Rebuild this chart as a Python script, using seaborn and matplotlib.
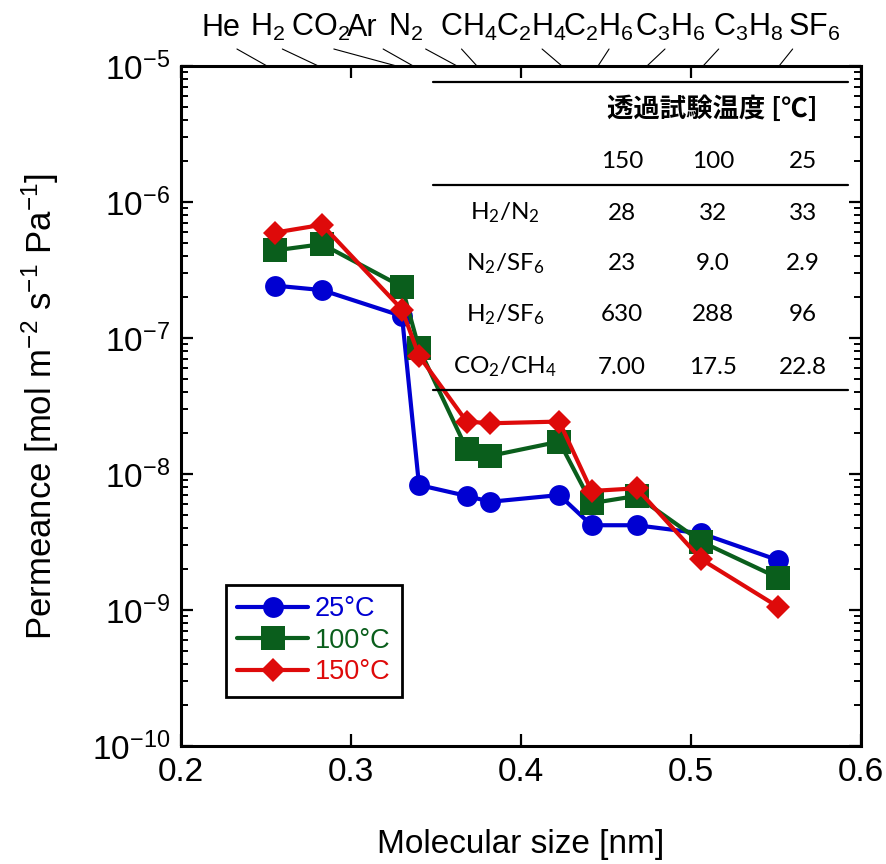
import numpy as np
import pandas as pd
import matplotlib
matplotlib.use("Agg")
import matplotlib.pyplot as plt
import seaborn as sns
from matplotlib.lines import Line2D
from matplotlib.transforms import blended_transform_factory

# ---- data -------------------------------------------------------------
gases = ["He", "H2", "CO2", "Ar", "N2", "CH4", "C2H4", "C2H6", "C3H6", "C3H8", "SF6"]
gas_labels = ["He", r"H$_\mathregular{2}$", r"CO$_\mathregular{2}$", "Ar", r"N$_\mathregular{2}$",
              r"CH$_\mathregular{4}$", r"C$_\mathregular{2}$H$_\mathregular{4}$",
              r"C$_\mathregular{2}$H$_\mathregular{6}$", r"C$_\mathregular{3}$H$_\mathregular{6}$",
              r"C$_\mathregular{3}$H$_\mathregular{8}$", r"SF$_\mathregular{6}$"]
size_nm = [0.255, 0.283, 0.330, 0.340, 0.368, 0.382, 0.4225, 0.4415, 0.468, 0.506, 0.551]

perm_25 = [2.43e-7, 2.25e-7, 1.45e-7, 8.3e-9, 6.9e-9, 6.25e-9, 7.0e-9, 4.2e-9, 4.2e-9, 3.66e-9, 2.33e-9]
perm_100 = [4.4e-7, 4.9e-7, 2.38e-7, 8.4e-8, 1.53e-8, 1.36e-8, 1.73e-8, 6.1e-9, 6.9e-9, 3.18e-9, 1.73e-9]
perm_150 = [5.95e-7, 6.8e-7, 1.62e-7, 7.4e-8, 2.43e-8, 2.36e-8, 2.43e-8, 7.5e-9, 7.85e-9, 2.36e-9, 1.06e-9]

series_labels = ["25°C", "100°C", "150°C"]

# selectivity table
table_title = "透過試験温度 [℃]"
table_temps = ["150", "100", "25"]
ratio_names = [r"H$_\mathregular{2}$/N$_\mathregular{2}$",
               r"N$_\mathregular{2}$/SF$_\mathregular{6}$",
               r"H$_\mathregular{2}$/SF$_\mathregular{6}$",
               r"CO$_\mathregular{2}$/CH$_\mathregular{4}$"]
ratio_values = [["28", "32", "33"],
                ["23", "9.0", "2.9"],
                ["630", "288", "96"],
                ["7.00", "17.5", "22.8"]]

# top-axis gas label placement (nm): text centre, leader top, leader foot
label_pos = [0.2235, 0.2507, 0.2818, 0.3065, 0.3324, 0.3694, 0.4062, 0.4456, 0.4876, 0.5335, 0.5724]
leader_top = [0.2329, 0.2596, 0.2899, 0.3189, 0.3439, 0.3650, 0.4124, 0.4518, 0.4847, 0.5163, 0.5598]
leader_foot = [0.2506, 0.2808, 0.3268, 0.3366, 0.3624, 0.3741, 0.4241, 0.4453, 0.4741, 0.5071, 0.5518]

# ---- style ------------------------------------------------------------
sns.set_theme(style="ticks")
plt.rcParams["font.family"] = ["Liberation Sans", "DejaVu Sans"]
plt.rcParams["mathtext.fontset"] = "custom"
plt.rcParams["mathtext.rm"] = "Liberation Sans"
plt.rcParams["mathtext.it"] = "Liberation Sans:italic"
plt.rcParams["mathtext.bf"] = "Liberation Sans:bold"
plt.rcParams["axes.linewidth"] = 2.2
for key in ("text.color", "axes.labelcolor", "xtick.color", "ytick.color", "axes.edgecolor"):
    plt.rcParams[key] = "black"

W, H = 886, 864
fig = plt.figure(figsize=(W / 100, H / 100), dpi=100)
ax = fig.add_axes([181 / W, 1 - 746 / H, 680 / W, 680 / H])

colors = ["#0000D2", "#0A5E1C", "#DE0A0A"]
markers = ["o", "s", "D"]
msizes = [15.0, 17.5, 12.5]

df = pd.DataFrame({"size": size_nm * 3,
                   "perm": perm_25 + perm_100 + perm_150,
                   "temp": np.repeat(series_labels, len(size_nm))})

for lab, c, m, ms in zip(series_labels, colors, markers, msizes):
    sns.lineplot(data=df[df["temp"] == lab], x="size", y="perm", ax=ax, sort=False,
                 color=c, marker=m, markersize=ms, markeredgecolor=c, markeredgewidth=0,
                 linewidth=3.0, label=lab)

ax.set_yscale("log")
ax.set_xlim(0.2, 0.6)
ax.set_ylim(1e-10, 1e-5)
ax.set_xticks([0.2, 0.3, 0.4, 0.5, 0.6])
ax.set_xticklabels(["0.2", "0.3", "0.4", "0.5", "0.6"])
ax.xaxis.set_minor_locator(matplotlib.ticker.NullLocator())
ax.yaxis.set_major_locator(matplotlib.ticker.LogLocator(base=10, numticks=10))
ax.yaxis.set_minor_locator(matplotlib.ticker.LogLocator(base=10, subs=np.arange(2, 10), numticks=10))
ax.tick_params(axis="both", which="major", direction="in", length=8.5, width=1.6,
               labelsize=24, top=True, right=True, pad=8)
ax.tick_params(axis="y", which="minor", direction="in", length=5, width=1.4, right=True, left=True)
for s in ax.spines.values():
    s.set_color("black")
    s.set_linewidth(2.2)

ax.set_xlabel("Molecular size [nm]", fontsize=24)
ax.set_ylabel(r"Permeance [mol m$^{\mathregular{-2}}$ s$^{\mathregular{-1}}$ Pa$^{\mathregular{-1}}$]",
              fontsize=25)
ax.xaxis.label.set_va("center")
ax.yaxis.label.set_va("center")
ax.xaxis.set_label_coords(0.5, (746 - 845) / 680)
ax.yaxis.set_label_coords((40 - 181) / 680, 0.5)

# legend
leg = ax.legend(loc="upper left", bbox_to_anchor=((226 - 181) / 680, (746 - 585) / 680),
                borderaxespad=0, fontsize=19.5, frameon=True, fancybox=False, framealpha=1,
                handlelength=2.6, handletextpad=0.25, labelspacing=0.2, borderpad=0.42)
leg.get_frame().set_edgecolor("black")
leg.get_frame().set_linewidth(2.0)
for t, c in zip(leg.get_texts(), colors):
    t.set_color(c)

# gas names on the top edge with leader lines
tr = blended_transform_factory(ax.transData, fig.transFigure)
for name, lx, lt, lf in zip(gas_labels, label_pos, leader_top, leader_foot):
    ax.text(lx, 1 - 36 / H, name, transform=tr, ha="center", va="baseline",
            fontsize=22, color="black", clip_on=False)
    ax.add_line(Line2D([lt, lf], [1 - 49 / H, 1 - 66 / H], transform=tr, color="black",
                       linewidth=0.8, clip_on=False))

# selectivity table
def fx(px):
    return px / W

def fy(py):
    return 1 - py / H

for y0 in (82, 185, 390):
    fig.add_artist(Line2D([fx(433), fx(848)], [fy(y0), fy(y0)], transform=fig.transFigure,
                          color="black", linewidth=1.6))

tbl_font = ["Lato", "DejaVu Sans"]
fig.text(fx(712), fy(109), table_title, ha="center", va="center", fontsize=19,
         fontweight="bold", family=["Noto Sans CJK JP", "DejaVu Sans"])
col_x = [622, 713, 803]
for cx, t in zip(col_x, table_temps):
    fig.text(fx(cx), fy(161), t, ha="center", va="center", fontsize=17.5, family=tbl_font)
row_y = [213, 264, 315, 367]
for ry, name, vals in zip(row_y, ratio_names, ratio_values):
    fig.text(fx(505), fy(ry), name, ha="center", va="center", fontsize=17.5, family=tbl_font)
    for cx, v in zip(col_x, vals):
        fig.text(fx(cx), fy(ry), v, ha="center", va="center", fontsize=17.5, family=tbl_font)

fig.savefig("out.png", dpi=100)
